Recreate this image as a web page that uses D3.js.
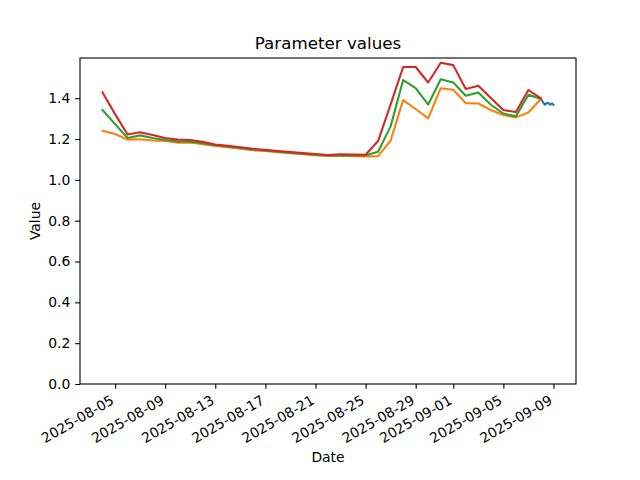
<!DOCTYPE html>
<html>
<head>
<meta charset="utf-8">
<script src="https://cdn.jsdelivr.net/npm/d3@7"></script>
<style>
  body { margin: 0; background: #fff; }
  svg { display: block; }
  text { font-family: "DejaVu Sans", sans-serif; fill: #000; }
</style>
</head>
<body>
<svg id="chart" width="640" height="480"></svg>
<script>
// ---- data ----
const dailyDates = [
  "2025-08-04","2025-08-05","2025-08-06","2025-08-07","2025-08-08","2025-08-09","2025-08-10",
  "2025-08-11","2025-08-12","2025-08-13","2025-08-14","2025-08-15","2025-08-16","2025-08-17",
  "2025-08-18","2025-08-19","2025-08-20","2025-08-21","2025-08-22","2025-08-23","2025-08-24",
  "2025-08-25","2025-08-26","2025-08-27","2025-08-28","2025-08-29","2025-08-30","2025-08-31",
  "2025-09-01","2025-09-02","2025-09-03","2025-09-04","2025-09-05","2025-09-06","2025-09-07",
  "2025-09-08"
];
const orangeValues = [
  1.241,1.225,1.197,1.199,1.193,1.190,1.182,
  1.183,1.175,1.166,1.160,1.152,1.145,1.141,
  1.136,1.131,1.126,1.121,1.117,1.118,1.116,
  1.115,1.116,1.192,1.391,1.347,1.301,1.449,
  1.441,1.376,1.374,1.342,1.318,1.306,1.330,
  1.396
];
const greenValues = [
  1.342,1.273,1.205,1.218,1.205,1.195,1.188,
  1.187,1.180,1.170,1.163,1.156,1.149,1.144,
  1.138,1.133,1.128,1.123,1.119,1.121,1.120,
  1.120,1.138,1.262,1.489,1.449,1.369,1.493,
  1.477,1.412,1.428,1.368,1.325,1.311,1.417,
  1.396
];
const redValues = [
  1.428,1.322,1.222,1.233,1.220,1.205,1.197,
  1.195,1.186,1.173,1.167,1.160,1.152,1.147,
  1.141,1.136,1.131,1.127,1.122,1.125,1.124,
  1.123,1.190,1.370,1.553,1.553,1.477,1.574,
  1.562,1.445,1.461,1.401,1.342,1.332,1.440,
  1.400
];
const blueTimes = [
  "2025-09-08T00:00","2025-09-08T03:00","2025-09-08T06:00","2025-09-08T08:00",
  "2025-09-08T10:00","2025-09-08T13:00","2025-09-08T16:00","2025-09-08T18:00",
  "2025-09-08T21:00","2025-09-08T23:00","2025-09-09T00:00"
];
const blueValues = [1.396,1.385,1.372,1.368,1.374,1.378,1.372,1.368,1.375,1.370,1.368];

const xTickLabels = ["2025-08-05","2025-08-09","2025-08-13","2025-08-17","2025-08-21",
  "2025-08-25","2025-08-29","2025-09-01","2025-09-05","2025-09-09"];
const yTickValues = [0.0,0.2,0.4,0.6,0.8,1.0,1.2,1.4];

const colors = { blue: "#1f77b4", orange: "#ff7f0e", green: "#2ca02c", red: "#d62728" };

// ---- layout ----
const W = 640, H = 480;
const m = { left: 80, right: 576, top: 58, bottom: 384 };
const svg = d3.select("#chart");

const parseDay = d3.timeParse("%Y-%m-%d");
const parseHour = d3.timeParse("%Y-%m-%dT%H:%M");

const series = [
  { color: colors.blue, pts: blueTimes.map((t, i) => ({ x: parseHour(t), y: blueValues[i] })) },
  { color: colors.orange, pts: dailyDates.map((t, i) => ({ x: parseDay(t), y: orangeValues[i] })) },
  { color: colors.green, pts: dailyDates.map((t, i) => ({ x: parseDay(t), y: greenValues[i] })) },
  { color: colors.red, pts: dailyDates.map((t, i) => ({ x: parseDay(t), y: redValues[i] })) }
];

const allPts = series.flatMap(s => s.pts);
const [x0, x1] = d3.extent(allPts, d => +d.x);
const xpad = (x1 - x0) * 0.05;
const x = d3.scaleTime().domain([new Date(x0 - xpad), new Date(x1 + xpad)]).range([m.left, m.right]);
const [y0, y1] = d3.extent(allPts, d => d.y);
const y = d3.scaleLinear().domain([0, y1 + (y1 - y0) * 0.05]).range([m.bottom, m.top]);

// clip
svg.append("defs").append("clipPath").attr("id", "clip")
  .append("rect").attr("x", m.left).attr("y", m.top)
  .attr("width", m.right - m.left).attr("height", m.bottom - m.top);

const line = d3.line().x(d => x(d.x)).y(d => y(d.y));
const g = svg.append("g").attr("clip-path", "url(#clip)");
series.forEach(s => {
  g.append("path").datum(s.pts).attr("d", line)
    .attr("fill", "none").attr("stroke", s.color).attr("stroke-width", 2.08)
    .attr("stroke-linejoin", "round").attr("stroke-linecap", "square");
});

// axes
const tickLen = 4.86, tickPad = 4.86, fs = 13.9;
const xAxis = d3.axisBottom(x)
  .tickValues(xTickLabels.map(parseDay))
  .tickFormat(d3.timeFormat("%Y-%m-%d"))
  .tickSizeInner(tickLen).tickSizeOuter(0).tickPadding(tickPad);
const gx = svg.append("g").attr("transform", `translate(0,${m.bottom})`).call(xAxis);
gx.select(".domain").remove();
gx.selectAll(".tick line").attr("stroke", "#000").attr("stroke-width", 1.1);
gx.selectAll(".tick text")
  .attr("font-size", fs).attr("font-family", "DejaVu Sans").attr("fill", "#000")
  .attr("text-anchor", "end")
  .attr("y", 0).attr("x", 0).attr("dy", "0.78em")
  .attr("transform", `translate(-6,${tickLen + tickPad}) rotate(-30)`);

const yAxis = d3.axisLeft(y).tickValues(yTickValues).tickFormat(d3.format(".1f"))
  .tickSizeInner(tickLen).tickSizeOuter(0).tickPadding(tickPad);
const gy = svg.append("g").attr("transform", `translate(${m.left},0)`).call(yAxis);
gy.select(".domain").remove();
gy.selectAll(".tick line").attr("stroke", "#000").attr("stroke-width", 1.1);
gy.selectAll(".tick text").attr("font-size", fs).attr("font-family", "DejaVu Sans").attr("fill", "#000");

// frame (spines)
svg.append("rect").attr("x", m.left).attr("y", m.top)
  .attr("width", m.right - m.left).attr("height", m.bottom - m.top)
  .attr("fill", "none").attr("stroke", "#000").attr("stroke-width", 1.1);

// titles
svg.append("text").attr("x", (m.left + m.right) / 2).attr("y", 49)
  .attr("text-anchor", "middle").attr("font-size", 16.7).text("Parameter values");
svg.append("text").attr("x", (m.left + m.right) / 2).attr("y", 462)
  .attr("text-anchor", "middle").attr("font-size", fs).text("Date");
svg.append("text").attr("transform", `translate(40,${(m.top + m.bottom) / 2}) rotate(-90)`)
  .attr("text-anchor", "middle").attr("font-size", fs).text("Value");
</script>
</body>
</html>
